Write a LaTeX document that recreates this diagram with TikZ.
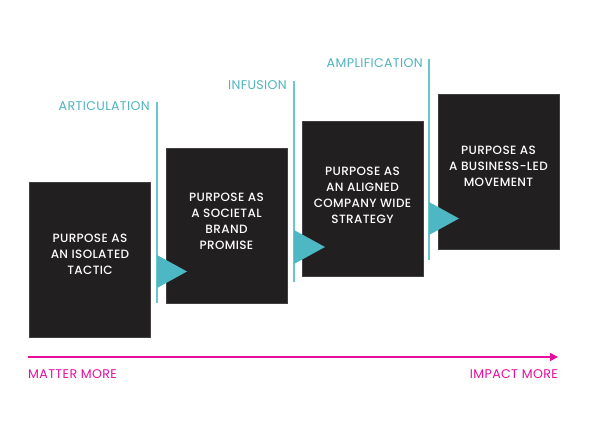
\documentclass[tikz,border=0pt]{standalone}
\usepackage{fontspec}
\setmainfont{Poppins}[LetterSpace=3]
\newfontfamily\medfont{Poppins}[UprightFont=* Medium, LetterSpace=3]
\usetikzlibrary{arrows.meta}
\definecolor{teal1}{HTML}{4DB8C4}
\definecolor{teal2}{HTML}{6CC4CE}
\definecolor{tealtxt}{HTML}{4FB3BF}
\definecolor{boxfill}{HTML}{211F1F}
\definecolor{pinkc}{HTML}{E60C9E}
\tikzset{
  stagebox/.style={rectangle, fill=boxfill, draw=black!75, line width=0.6pt, minimum width=121pt, minimum height=155pt, inner sep=0pt},
  boxtext/.style={text=white, align=center, font=\medfont\fontsize{12}{16}\selectfont, inner sep=0pt},
  phase/.style={text=tealtxt, font=\fontsize{12.6}{14}\selectfont, inner sep=0pt},
  pinklbl/.style={text=pinkc, font=\fontsize{12.6}{14}\selectfont, inner sep=0pt},
  vline/.style={draw=teal2, line width=1.4pt},
  tri/.style={fill=teal1},
}
\begin{document}
\begin{tikzpicture}[x=1pt,y=-1pt]
\useasboundingbox (0,0) rectangle (592,444);
% vertical phase lines
\coordinate (l1t) at (157,102); \coordinate (l1b) at (157,303);
\coordinate (l2t) at (294,81);  \coordinate (l2b) at (294,282);
\coordinate (l3t) at (429,59);  \coordinate (l3b) at (429,260);
\draw[vline] (l1t) -- (l1b);
\draw[vline] (l2t) -- (l2b);
\draw[vline] (l3t) -- (l3b);
% phase labels
\node[phase, anchor=east] (p1) at (150,106.5) {ARTICULATION};
\node[phase, anchor=east] (p2) at (287,85) {INFUSION};
\node[phase, anchor=east] (p3) at (423,63) {AMPLIFICATION};
% boxes
\node[stagebox] (b1) at (90,259.5) {};
\node[stagebox] (b2) at (226.5,225.5) {};
\node[stagebox] (b3) at (362.5,198.5) {};
\node[stagebox] (b4) at (498.5,171.5) {};
\node[boxtext] (t1) at (90,254) {PURPOSE AS\\AN ISOLATED\\TACTIC};
\node[boxtext] (t2) at (226.5,221) {PURPOSE AS\\A SOCIETAL\\BRAND\\PROMISE};
\node[boxtext] (t3) at (362.5,195) {PURPOSE AS\\AN ALIGNED\\COMPANY WIDE\\STRATEGY};
\node[boxtext] (t4) at (498.5,166) {PURPOSE AS\\A BUSINESS-LED\\MOVEMENT};
% triangles
\fill[tri] (157,255) -- (187,271.5) -- (157,288) -- cycle;
\fill[tri] (294,230) -- (325,247) -- (294,264) -- cycle;
\fill[tri] (429,202) -- (459,218.5) -- (429,235) -- cycle;
% pink axis
\coordinate (a0) at (28,357);
\coordinate (a1) at (558,357);
\draw[pinkc, line width=1.5pt, -{Triangle[length=8pt,width=8pt]}] (a0) -- (a1);
\node[pinklbl, anchor=west] (m1) at (28,374) {MATTER MORE};
\node[pinklbl, anchor=east] (m2) at (558,374) {IMPACT MORE};
\end{tikzpicture}
\end{document}
